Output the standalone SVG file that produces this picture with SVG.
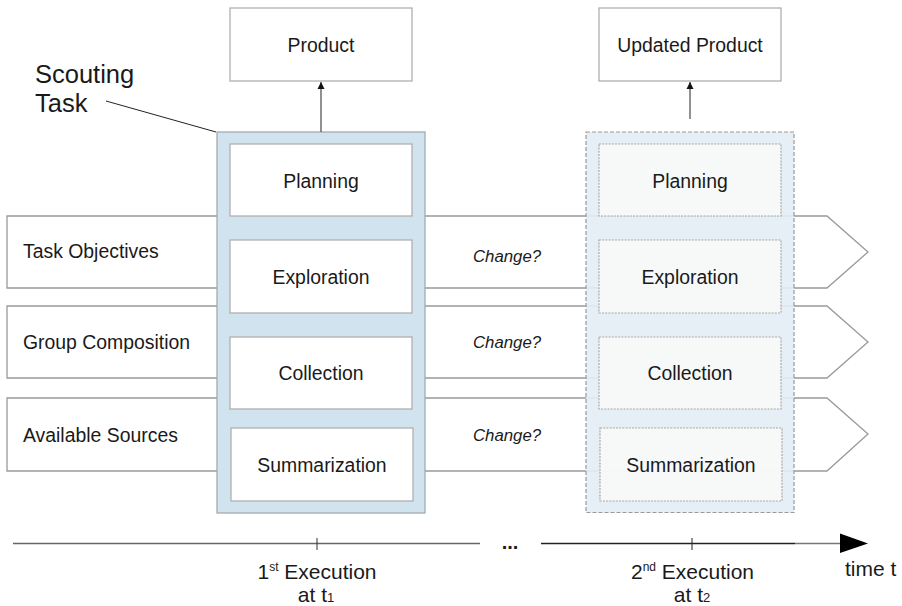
<svg xmlns="http://www.w3.org/2000/svg" width="902" height="606" viewBox="0 0 902 606">
<defs>
<style>
text{font-family:"Liberation Sans",Arial,sans-serif;fill:#1a1a1a}
.lbl{font-size:19.4px}
.mid{text-anchor:middle}
.chg{font-size:16.8px;font-style:italic}
.big{font-size:25.5px}
.ex{font-size:21px}
.box{fill:#fff;stroke:#b0b0b0;stroke-width:1.3}
.lane{fill:#fff;stroke:#9a9a9a;stroke-width:1.3}
.task1{fill:#d1e3ee;stroke:#a3abb2;stroke-width:1.3}
.task2{fill:#e3edf4;fill-opacity:0.9;stroke:#9a9a9a;stroke-width:1.2;stroke-dasharray:4 2}
.step2{fill:#f8f8f8;fill-opacity:0.95;stroke:#a8a8a8;stroke-width:1.2;stroke-dasharray:2 1.2}
</style>
<marker id="ah" viewBox="0 0 10 10" refX="10" refY="5" markerWidth="7" markerHeight="8" markerUnits="userSpaceOnUse" orient="auto">
<path d="M0,0 L10,5 L0,10 z" fill="#111"/>
</marker>
</defs>
<rect width="902" height="606" fill="#fff"/>

<g id="lane-objectives">
<path class="lane" d="M7,216 H827 L868,252 L827,288 H7 Z"/>
<text class="lbl" x="23" y="258">Task Objectives</text>
<text class="chg" x="473" y="262">Change?</text>
</g>
<g id="lane-group">
<path class="lane" d="M7,306 H827 L868,342 L827,378 H7 Z"/>
<text class="lbl" x="23" y="349">Group Composition</text>
<text class="chg" x="473" y="348">Change?</text>
</g>
<g id="lane-sources">
<path class="lane" d="M7,398 H827 L868,434 L827,471 H7 Z"/>
<text class="lbl" x="23" y="441.5">Available Sources</text>
<text class="chg" x="473" y="441">Change?</text>
</g>

<g id="scouting-label">
<text class="big" x="35" y="83">Scouting</text>
<text class="big" x="35" y="112">Task</text>
</g>

<g id="task1">
<rect class="task1" x="217" y="132" width="208" height="381"/>
</g>
<g id="planning1"><rect class="box" x="230" y="144" width="182" height="72"/><text class="lbl mid" x="321" y="187.5">Planning</text></g>
<g id="exploration1"><rect class="box" x="230" y="240" width="182" height="73"/><text class="lbl mid" x="321" y="283.5">Exploration</text></g>
<g id="collection1"><rect class="box" x="230" y="337" width="182" height="72"/><text class="lbl mid" x="321" y="380">Collection</text></g>
<g id="summarization1"><rect class="box" x="231" y="428" width="182" height="73"/><text class="lbl mid" x="322" y="471.5">Summarization</text></g>

<g id="task2">
<rect class="task2" x="586" y="132" width="208" height="380.5"/>
</g>
<g id="planning2"><rect class="step2" x="599" y="144" width="182" height="72"/><text class="lbl mid" x="690" y="187.5">Planning</text></g>
<g id="exploration2"><rect class="step2" x="599" y="240" width="182" height="73"/><text class="lbl mid" x="690" y="283.5">Exploration</text></g>
<g id="collection2"><rect class="step2" x="599" y="337" width="182" height="72"/><text class="lbl mid" x="690" y="380">Collection</text></g>
<g id="summarization2"><rect class="step2" x="600" y="428" width="182" height="73"/><text class="lbl mid" x="691" y="471.5">Summarization</text></g>

<g id="product"><rect class="box" x="230" y="8" width="182" height="73"/><text class="lbl mid" x="321" y="51.5">Product</text></g>
<g id="updated-product"><rect class="box" x="599" y="8" width="182" height="73"/><text class="lbl mid" x="690" y="51.5">Updated Product</text></g>

<g id="connectors">
<line x1="106" y1="101" x2="216" y2="132" stroke="#222" stroke-width="1"/>
<line x1="321" y1="132" x2="321" y2="82" stroke="#555" stroke-width="1.3" marker-end="url(#ah)"/>
<line x1="690" y1="119" x2="690" y2="82" stroke="#555" stroke-width="1.3" marker-end="url(#ah)"/>
</g>

<g id="timeline">
<line x1="13" y1="543.5" x2="480" y2="543.5" stroke="#666" stroke-width="1.4"/>
<text x="510" y="549" class="mid" style="font-size:20px;font-weight:bold">...</text>
<line x1="541" y1="543.5" x2="795" y2="543.5" stroke="#222" stroke-width="1.5"/>
<line x1="795" y1="543.5" x2="842" y2="543.5" stroke="#777" stroke-width="1.5"/>
<path d="M840,533.5 L868,543.5 L840,553 Z" fill="#000"/>
<line x1="317" y1="538" x2="317" y2="550" stroke="#333" stroke-width="1"/>
<line x1="692" y1="538" x2="692" y2="550" stroke="#222" stroke-width="1"/>
<text class="ex mid" x="317" y="578.5">1<tspan style="font-size:12px" dy="-8">st</tspan><tspan dy="8"> Execution</tspan></text>
<text class="ex mid" x="316" y="601.5">at t<tspan style="font-size:13px">1</tspan></text>
<text class="ex mid" x="692.5" y="578.5">2<tspan style="font-size:12px" dy="-8">nd</tspan><tspan dy="8"> Execution</tspan></text>
<text class="ex mid" x="692" y="601.5">at t<tspan style="font-size:13px">2</tspan></text>
<text class="ex" x="845" y="576">time t</text>
</g>
</svg>
